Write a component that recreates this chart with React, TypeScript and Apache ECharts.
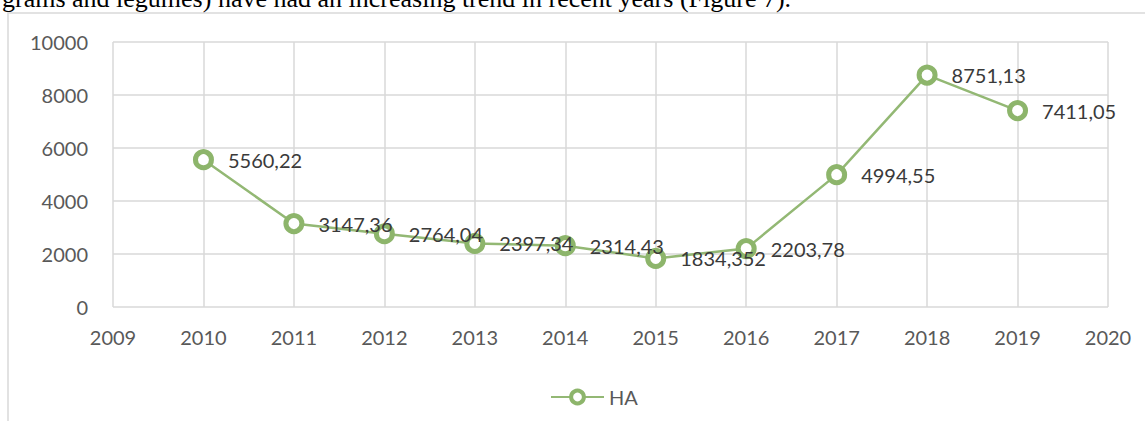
import React, { useEffect, useRef } from "react";
import * as echarts from "echarts";

const years = [2010, 2011, 2012, 2013, 2014, 2015, 2016, 2017, 2018, 2019];
const haValues = [5560.22, 3147.36, 2764.04, 2397.34, 2314.43, 1834.352, 2203.78, 4994.55, 8751.13, 7411.05];
const seriesName = "HA";
const headingText = "grams and legumes) have had an increasing trend in recent years (Figure 7).";

const FONT = "Lato";
const GREEN = "#8db56b";

export default function App() {
  const ref = useRef<HTMLDivElement>(null);
  useEffect(() => {
    if (!ref.current) return;
    const chart = echarts.init(ref.current, undefined, { renderer: "svg" });
    chart.setOption({
      animation: false,
      backgroundColor: "#ffffff",
      textStyle: { fontFamily: FONT },
      graphic: [
        {
          type: "rect",
          shape: { x: 8, y: 13, width: 1400, height: 600 },
          style: { fill: "none", stroke: "#d9d9d9", lineWidth: 1.5 },
          silent: true,
          z: -1,
        },
        {
          type: "text",
          x: 2,
          y: -2,
          style: {
            text: headingText,
            font: "26px 'Liberation Serif'",
            fill: "#000000",
            verticalAlign: "middle",
          },
        },
      ],
      grid: { left: 113, right: 37, top: 42, bottom: 114, containLabel: false },
      legend: {
        left: 545,
        top: 382,
        itemWidth: 53,
        itemHeight: 16,
        itemGap: 10,
        itemStyle: { color: "#ffffff", borderColor: GREEN, borderWidth: 4 },
        textStyle: { color: "#595959", fontSize: 20, fontFamily: FONT },
        data: [seriesName],
      },
      xAxis: {
        type: "value",
        min: 2009,
        max: 2020,
        interval: 1,
        axisLine: { show: false },
        axisTick: { show: false },
        splitLine: { show: true, lineStyle: { color: "#d9d9d9", width: 1.5 } },
        axisLabel: {
          color: "#595959",
          fontSize: 20,
          fontFamily: FONT,
          margin: 20,
          formatter: (v: number) => String(v),
        },
      },
      yAxis: {
        type: "value",
        min: 0,
        max: 10000,
        interval: 2000,
        axisLine: { show: false },
        axisTick: { show: false },
        splitLine: { show: true, lineStyle: { color: "#d9d9d9", width: 1.5 } },
        axisLabel: {
          color: "#595959",
          fontSize: 20,
          fontFamily: FONT,
          margin: 25,
          formatter: (v: number) => String(v),
        },
      },
      series: [
        {
          name: seriesName,
          type: "line",
          data: years.map((y, i) => [y, haValues[i]]),
          symbol: "circle",
          symbolSize: 16,
          lineStyle: { color: "#93b874", width: 2.5 },
          itemStyle: { color: "#ffffff", borderColor: GREEN, borderWidth: 5 },
          label: {
            show: true,
            position: "right",
            distance: 14,
            color: "#3a3a3a",
            fontSize: 20,
            fontFamily: FONT,
            formatter: (p: any) => String(p.value[1]).replace(".", ","),
          },
        },
      ],
    });
    return () => chart.dispose();
  }, []);
  return (
    <div
      ref={ref}
      style={{ position: "fixed", left: 0, top: 0, width: 1145, height: 421 }}
    />
  );
}
